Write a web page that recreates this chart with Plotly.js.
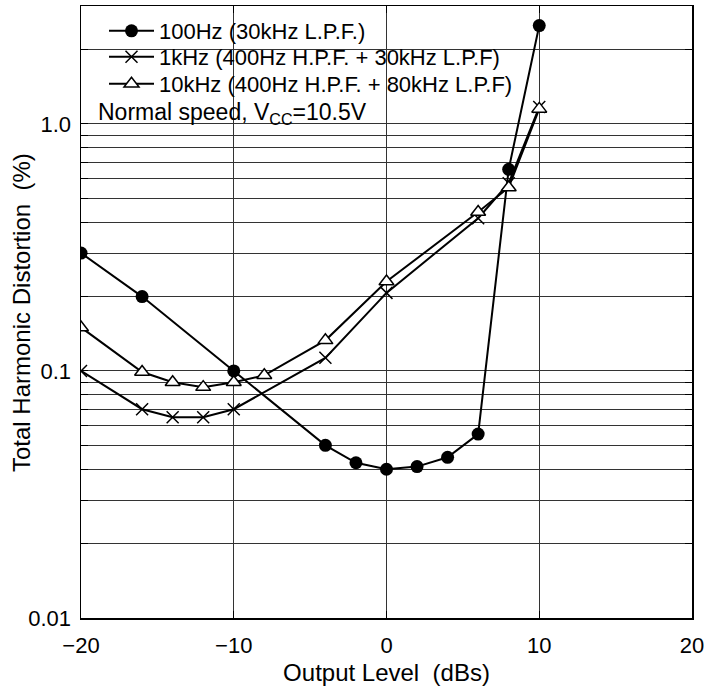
<!DOCTYPE html>
<html>
<head>
<meta charset="utf-8">
<script src="https://cdn.plot.ly/plotly-3.0.1.min.js"></script>
<style>html,body{margin:0;padding:0;background:#fff;}#chart{width:709px;height:692px;}</style>
</head>
<body>
<div id="chart"></div>
<script>
// Output level (dBs)
const x100 = [-20, -16, -10, -4, -2, 0, 2, 4, 6, 8, 10];
const thd100 = [0.30, 0.20, 0.10, 0.050, 0.0425, 0.040, 0.041, 0.0447, 0.0555, 0.655, 2.50];

const x1k = [-20, -16, -14, -12, -10, -4, 0, 6, 8, 10];
const thd1k = [0.10, 0.070, 0.065, 0.065, 0.070, 0.113, 0.207, 0.415, 0.575, 1.17];

const x10k = [-20, -16, -14, -12, -10, -8, -4, 0, 6, 8, 10];
const thd10k = [0.150, 0.099, 0.090, 0.086, 0.090, 0.096, 0.133, 0.230, 0.44, 0.553, 1.15];

const names = ['100Hz (30kHz L.P.F.)', '1kHz (400Hz H.P.F. + 30kHz L.P.F)', '10kHz (400Hz H.P.F. + 80kHz L.P.F)'];
const noteText = 'Normal speed, V<sub>CC</sub>=10.5V';

const xTicks = [-20, -10, 0, 10, 20];
const yTicks = [0.01, 0.1, 1];
const yTickText = ['0.01', '0.1', '1.0'];
const yMinor = [0.02, 0.03, 0.04, 0.05, 0.06, 0.07, 0.08, 0.09, 0.2, 0.3, 0.4, 0.5, 0.6, 0.7, 0.8, 0.9, 2];
const xTitle = 'Output Level  (dBs)';
const yTitle = 'Total Harmonic Distortion  (%)';

const FONT = 'Liberation Sans, Arial, Helvetica, sans-serif';
const lineStyle = {color: '#000', width: 2};

const traces = [
  {x: x100, y: thd100, name: names[0], mode: 'lines+markers', line: lineStyle, legend: 'legend',
   marker: {symbol: 'circle', size: 13, color: '#000'}},
  {x: x1k, y: thd1k, name: names[1], mode: 'lines+markers', line: lineStyle, legend: 'legend2',
   marker: {symbol: 'x-thin-open', size: 12, color: '#000', line: {color: '#000', width: 1.5}}},
  {x: x10k, y: thd10k, name: names[2], mode: 'lines+markers', line: lineStyle, legend: 'legend3',
   marker: {symbol: 'triangle-up', size: 13, color: '#fff', line: {color: '#000', width: 1.5}}}
];

const W = 709, H = 692;
const L = 81, R = 17, T = 6, B = 74;
const pw = W - L - R, ph = H - T - B;
const px = v => (v - L) / pw;
const py = v => 1 - (v - T) / ph;

const legendBase = (topPx) => ({
  x: px(104), y: py(topPx), xanchor: 'left', yanchor: 'top',
  bgcolor: 'rgba(0,0,0,0)', borderwidth: 0,
  font: {family: FONT, size: 22, color: '#000'},
  tracegroupgap: 0, itemwidth: 45
});

const gridCol = '#333';
const layout = {
  width: W, height: H,
  margin: {l: L, r: R, t: T, b: B, pad: 0},
  paper_bgcolor: '#fff', plot_bgcolor: '#fff',
  font: {family: FONT, size: 22, color: '#000'},
  showlegend: true,
  legend: legendBase(10),
  legend2: legendBase(36),
  legend3: legendBase(63),
  xaxis: {
    type: 'linear', range: [-20, 20],
    tickvals: xTicks, ticks: 'inside', ticklen: 7, tickwidth: 1, tickcolor: '#000',
    showline: true, linecolor: '#000', linewidth: 1.5, mirror: 'ticks',
    showgrid: true, gridcolor: gridCol, gridwidth: 1, zeroline: false,
    tickfont: {family: FONT, size: 22, color: '#000'},
    ticklabelstandoff: 7,
    title: {text: xTitle, font: {family: FONT, size: 24, color: '#000'}, standoff: 7}
  },
  yaxis: {
    type: 'log', range: [-2, Math.log10(3.0)],
    tickvals: yTicks, ticktext: yTickText, ticks: 'inside', ticklen: 7, tickwidth: 1, tickcolor: '#000',
    showline: true, linecolor: '#000', linewidth: 1.5, mirror: 'ticks',
    showgrid: true, gridcolor: gridCol, gridwidth: 1, zeroline: false,
    minor: {tickvals: yMinor, showgrid: true, gridcolor: gridCol, gridwidth: 1, ticks: 'inside', ticklen: 7, tickcolor: '#000', tickwidth: 1},
    tickfont: {family: FONT, size: 22, color: '#000'},
    ticklabelstandoff: 4
  },
  shapes: [
    {type: 'rect', xref: 'paper', yref: 'paper', x0: px(87), x1: px(515), y0: py(100), y1: py(13),
     fillcolor: '#fff', line: {width: 0}, layer: 'between'},
    {type: 'rect', xref: 'paper', yref: 'paper', x0: px(87), x1: px(398), y0: py(128), y1: py(99),
     fillcolor: '#fff', line: {width: 0}, layer: 'between'}
  ],
  annotations: [
    {text: noteText, xref: 'paper', yref: 'paper', x: px(96), y: py(113), xanchor: 'left', yanchor: 'middle',
     showarrow: false, font: {family: FONT, size: 23, color: '#000'}},
    {text: yTitle, xref: 'paper', yref: 'paper', x: px(21), y: py(313), xanchor: 'center', yanchor: 'middle',
     textangle: -90, showarrow: false, font: {family: FONT, size: 24, color: '#000'}}
  ]
};

Plotly.newPlot('chart', traces, layout, {displayModeBar: false, staticPlot: true});
</script>
</body>
</html>
